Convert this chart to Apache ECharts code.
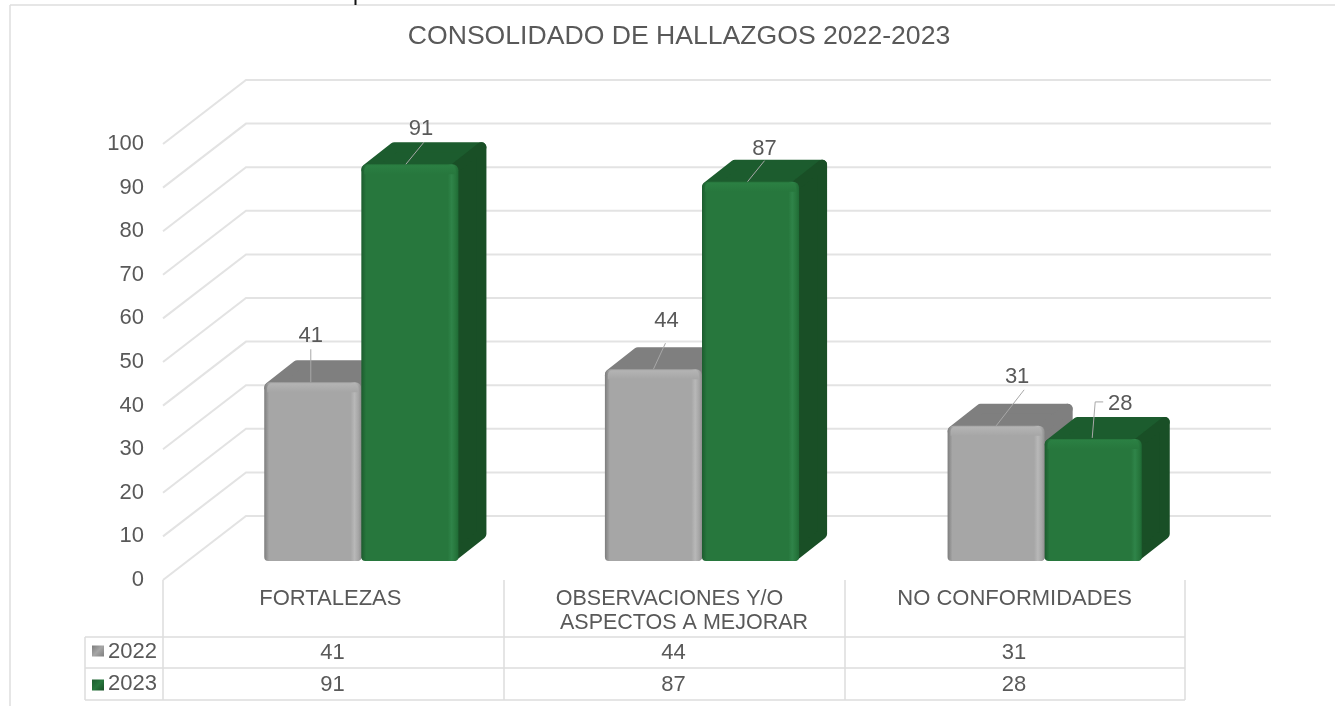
<!DOCTYPE html>
<html><head><meta charset="utf-8">
<style>html,body{margin:0;padding:0;background:#fff}#c{width:1335px;height:706px}</style>
<script src="https://cdn.jsdelivr.net/npm/echarts@6/dist/echarts.min.js"></script>
</head><body><div id="c"></div>
<script>
const titleText = 'CONSOLIDADO DE HALLAZGOS 2022-2023';
const categories = ['FORTALEZAS', 'OBSERVACIONES Y/O\nASPECTOS A MEJORAR', 'NO CONFORMIDADES'];
const seriesNames = ['2022', '2023'];
const values2022 = [41, 44, 31];
const values2023 = [91, 87, 28];
const yTicks = [0, 10, 20, 30, 40, 50, 60, 70, 80, 90, 100];

// styling of the pseudo-3D look
const FONT = '"Liberation Sans", Arial, sans-serif';
const TXT = '#595959', GRID = '#e3e3e3';
const WALL = [83, -64], BAR_POS = [28, -19], BAR_D = [28, -22], BAR_FRAC = 0.285;
const palette = [
  {face:'#a6a6a6', edgeL:'#7d7d7d', edgeR:'#8e8e8e', hi:'#b8b8b8', glow:'#b4b4b4', top:'#7f7f7f', side:'#7f7f7f'},
  {face:'#27773d', edgeL:'#1c5c2e', edgeR:'#1f6a35', hi:'#2f8449', glow:'#2b8043', top:'#1c5c2e', side:'#194f26'}
];
// label placement relative to the bar's top-centre, series by series
const labelOffset = [
  [[-2,-46],[13,-48],[21,-49]],
  [[11,-35],[14,-33],[27,-35]]
];
const leaderLine = [
  [[[-2,-33],[-2,0]],[[12,-26],[0,0]],[[28,-36],[0,0]]],
  [[[14,-22],[-4,0]],[[14,-21],[-3,0]],[[10,-37],[2,-37],[-1,-1]]]
];

function wallItem(params, api) {
  const v = api.value(0), band = api.size([1, 0])[0];
  const p = api.coord([0, v]);
  const x0 = p[0] - band / 2, y0 = p[1];
  const xb = x0 + WALL[0], yb = y0 + WALL[1];
  const xe = api.coord([2, v])[0] + band / 2 + 86;
  const st = {stroke: GRID, lineWidth: 2, fill: null};
  return {type: 'group', silent: true, children: [
    {type: 'polyline', shape: {points: [[x0, y0], [xb, yb], [xe, yb]]}, style: st}
  ]};
}

function barItem(s) {
  return function (params, api) {
    const cat = api.value(0), val = api.value(1);
    const band = api.size([1, 0])[0], w = band * BAR_FRAC;
    const c = api.coord([cat, 0]), t = api.coord([cat, val]);
    const cx = c[0] + BAR_POS[0] + (cat === 2 ? 2 : 0);
    const x = s === 0 ? cx - w : cx, x1 = x + w;
    const base = c[1] + BAR_POS[1], top = t[1] + BAR_POS[1];
    const P = palette[s], dx = BAR_D[0], dy = BAR_D[1], i = 5;
    const kids = [];
    kids.push({type: 'polygon', shape: {points: [[x + i, top + i], [x + dx + i, top + dy + i], [x1 + dx - i, top + dy + i], [x1 - i, top + i]]},
      style: {fill: P.top, stroke: P.top, lineWidth: 10, lineJoin: 'round'}});
    kids.push({type: 'polygon', shape: {points: [[x1 - i, top + i], [x1 + dx - i, top + dy + i], [x1 + dx - i, base + dy - i], [x1 - i, base - i]]},
      style: {fill: P.side, stroke: P.side, lineWidth: 10, lineJoin: 'round'}});
    kids.push({type: 'rect', shape: {x: x, y: top, width: w, height: base - top, r: [6, 6, 4, 4]},
      style: {fill: {type: 'linear', x: 0, y: 0, x2: 1, y2: 0, colorStops: [
        {offset: 0, color: P.edgeL}, {offset: 0.05, color: P.face}, {offset: 0.89, color: P.face},
        {offset: 0.93, color: P.hi}, {offset: 0.97, color: P.face}, {offset: 1, color: P.edgeR}]}}});
    kids.push({type: 'rect', shape: {x: x + 3, y: top + 1, width: w - 6, height: 9, r: [5, 5, 0, 0]},
      style: {fill: {type: 'linear', x: 0, y: 0, x2: 0, y2: 1, colorStops: [
        {offset: 0, color: P.glow}, {offset: 1, color: P.face}]}}});
    const mid = x + w / 2;
    const L = leaderLine[s][cat].map(q => [mid + q[0], top + q[1]]);
    kids.push({type: 'polyline', shape: {points: L}, style: {stroke: '#a8a8a8', lineWidth: 1, fill: null}});
    const o = labelOffset[s][cat];
    kids.push({type: 'text', style: {text: String(val), x: mid + o[0], y: top + o[1], align: 'center', verticalAlign: 'middle',
      font: '22px ' + FONT, fill: TXT}});
    return {type: 'group', silent: true, children: kids};
  };
}

// data table drawn from the same arrays
const tbl = {x: [85, 163, 504, 845, 1185], top: 580, rows: [637, 668, 700]};
const graphics = [];
function ln(x1, y1, x2, y2, col) { graphics.push({type: 'line', silent: true, shape: {x1, y1, x2, y2}, style: {stroke: col || '#dcdcdc', lineWidth: 1.5}}); }
tbl.rows.forEach(y => ln(tbl.x[0], y, tbl.x[4], y));
tbl.x.slice(1).forEach(x => ln(x, tbl.top, x, tbl.rows[2]));
ln(tbl.x[0], tbl.rows[0], tbl.x[0], tbl.rows[2]);
ln(10, 5, 1335, 5, '#dedede'); ln(10, 5, 10, 706, '#dedede');
graphics.push({type: 'line', silent: true, shape: {x1: 355.5, y1: 0, x2: 355.5, y2: 5}, style: {stroke: '#111', lineWidth: 2}});
[values2022, values2023].forEach((vals, r) => {
  const cy = (tbl.rows[r] + tbl.rows[r + 1]) / 2 - (r ? -0.5 : 2);
  const P = palette[r];
  graphics.push({type: 'rect', silent: true, shape: {x: 92, y: cy - 5, width: 12, height: 11},
    style: {fill: {type: 'linear', x: 0, y: 0, x2: 1, y2: 1, colorStops: [{offset: 0, color: P.edgeL}, {offset: 0.5, color: P.face}, {offset: 1, color: P.side}]}}});
  graphics.push({type: 'text', silent: true, style: {text: seriesNames[r], x: 108, y: cy + (r ? -1 : 1), verticalAlign: 'middle', font: '22px ' + FONT, fill: TXT}});
  vals.forEach((v, i) => graphics.push({type: 'text', silent: true, style: {
    text: String(v), x: (tbl.x[i + 1] + tbl.x[i + 2]) / 2 - 1, y: cy + (r ? 0 : 2), align: 'center', verticalAlign: 'middle', font: '22px ' + FONT, fill: TXT}}));
});

const chart = echarts.init(document.getElementById('c'), null, {renderer: 'canvas'});
chart.setOption({
  animation: false,
  backgroundColor: '#fff',
  title: {text: titleText, left: 674, top: 18, textAlign: 'center',
    textStyle: {fontFamily: FONT, fontSize: 26.6, fontWeight: 'normal', color: TXT}},
  grid: {left: 163, width: 1022, top: 144, height: 436, containLabel: false},
  xAxis: {type: 'category', data: categories, axisLine: {show: false}, axisTick: {show: false}, splitLine: {show: false},
    axisLabel: {interval: 0, margin: 7, verticalAlign: 'top',
      formatter: function (v, i) {
        const parts = v.split('\n');
        if (i === 0) return '{a|' + v + '}';
        if (i === 1) return '{b|' + parts[0] + '}\n{c|' + parts[1] + '}';
        return '{d|' + v + '}';
      },
      rich: {
        a: {fontFamily: FONT, fontSize: 22, color: TXT, lineHeight: 24, padding: [0, 6, 0, 0]},
        b: {fontFamily: FONT, fontSize: 21.5, color: TXT, lineHeight: 24, padding: [0, 29, 0, 20]},
        c: {fontFamily: FONT, fontSize: 21.5, color: TXT, lineHeight: 24, padding: [0, 0, 0, 20]},
        d: {fontFamily: FONT, fontSize: 22, color: TXT, lineHeight: 24}
      }}},
  yAxis: {type: 'value', min: 0, max: 100, interval: 10, axisLine: {show: false}, axisTick: {show: false}, splitLine: {show: false},
    axisLabel: {margin: 19, fontFamily: FONT, fontSize: 22, color: TXT}},
  series: [
    {type: 'custom', z: 1, renderItem: wallItem, data: yTicks.map(v => [v]), encode: {y: 0}, tooltip: {show: false}},
    {type: 'custom', name: seriesNames[0], z: 2, renderItem: barItem(0), data: values2022.map((v, i) => [i, v]), encode: {x: 0, y: 1}},
    {type: 'custom', name: seriesNames[1], z: 3, renderItem: barItem(1), data: values2023.map((v, i) => [i, v]), encode: {x: 0, y: 1}}
  ],
  graphic: graphics
});
</script></body></html>
